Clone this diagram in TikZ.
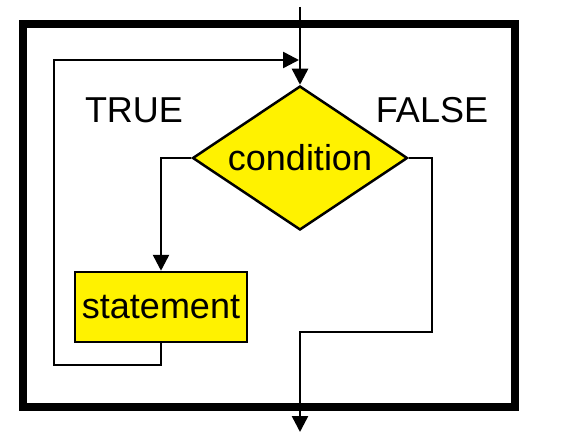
\documentclass[tikz,border=0pt]{standalone}
\usepackage{fontspec}
\setmainfont{Liberation Sans}
\usetikzlibrary{shapes.geometric,arrows.meta}
\begin{document}
\begin{tikzpicture}[x=1pt,y=-1pt,
  line/.style={line width=2.5pt,line join=miter},
  arr/.style={line, -{Triangle[length=16pt,width=16pt]}},
  yel/.style={draw,line width=2.5pt,fill=yellow,font=\fontsize{36}{40}\selectfont,inner sep=0pt},
  lbl/.style={font=\fontsize{36}{40}\selectfont,inner sep=0pt}]
\useasboundingbox (0,0) rectangle (577,433);
\draw[line width=8pt] (23,24) rectangle (515,407);
\node[yel,diamond,aspect=1.5,minimum width=215pt,minimum height=144pt] (cond) at (300,158) {condition};
\node[yel,rectangle,minimum width=172pt,minimum height=70pt] (stmt) at (161,307) {statement};
\node[lbl] (t) at (134,110) {TRUE};
\node[lbl] (f) at (432,110) {FALSE};
\coordinate (in) at (300,7);
\coordinate (out) at (300,432);
\coordinate (join) at (299,60);
\draw[arr] (in) -- (cond.north);
\draw[arr] (cond.west) -| (stmt.north);
\draw[line] (stmt.south) -- (161,365) -- (54,365) -- (54,60) -- (292,60);
\draw[arr] (54,60) -- (join);
\draw[arr] (cond.east) -| (432,332) -| (out);
\end{tikzpicture}
\end{document}
